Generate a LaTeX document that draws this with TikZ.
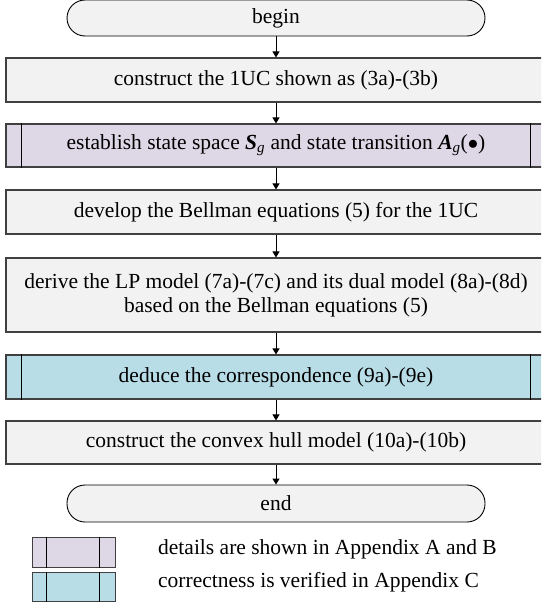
\documentclass[tikz,border=0pt]{standalone}
\usepackage{fontspec}
\setmainfont{Liberation Serif}
\usetikzlibrary{arrows.meta}
\definecolor{boxgray}{HTML}{F2F2F2}
\definecolor{boxline}{HTML}{404040}
\definecolor{lav}{HTML}{DDD7E6}
\definecolor{lblue}{HTML}{B8DDE7}
\tikzset{
  stepbox/.style={draw=boxline, line width=1.1pt, fill=boxgray, minimum width=540pt, inner sep=0pt, align=center, font=\fontsize{21.5}{24}\selectfont},
  termbox/.style={draw=black, line width=0.9pt, fill=boxgray, minimum width=418pt, minimum height=36pt, rounded corners=18pt, inner sep=0pt, font=\fontsize{21.5}{24}\selectfont},
  flowarrow/.style={draw=black, line width=1pt, -{Triangle[length=6pt,width=7pt]}},
  legtext/.style={anchor=west, inner sep=0pt, font=\fontsize{21.5}{24}\selectfont},
  subline/.style={draw=black, line width=0.9pt}
}
\begin{document}
\begin{tikzpicture}[x=1pt,y=-1pt]
\useasboundingbox (0,0) rectangle (541,605);
\clip (0,0) rectangle (541,605);
\node[termbox] (begin) at (276,18) {begin};
\node[stepbox, minimum height=44pt] (s1) at (276,80) {construct the 1UC shown as (3a)-(3b)};
\node[stepbox, fill=lav, minimum height=43pt] (s2) at (276,145.5) {establish state space \textbf{\textit{S}}\textsubscript{\textit{g}} and state transition \textbf{\textit{A}}\textsubscript{\textit{g}}($\bullet$)};
\node[stepbox, minimum height=44pt] (s3) at (276,212) {develop the Bellman equations (5) for the 1UC};
\node[stepbox, minimum height=74pt] (s4) at (276,295) {derive the LP model (7a)-(7c) and its dual model (8a)-(8d)\\based on the Bellman equations (5)};
\node[stepbox, fill=lblue, minimum height=44pt] (s5) at (276,377) {deduce the correspondence (9a)-(9e)};
\node[stepbox, minimum height=43pt] (s6) at (276,442.5) {construct the convex hull model (10a)-(10b)};
\node[termbox, minimum height=37pt] (end) at (276,503.5) {end};
% inner lines of subprocess boxes
\draw[subline] ([xshift=16pt]s2.north west) -- ([xshift=16pt]s2.south west);
\draw[subline] ([xshift=-16pt]s2.north east) -- ([xshift=-16pt]s2.south east);
\draw[subline] ([xshift=16pt]s5.north west) -- ([xshift=16pt]s5.south west);
\draw[subline] ([xshift=-16pt]s5.north east) -- ([xshift=-16pt]s5.south east);
% arrows
\draw[flowarrow] (begin) -- (s1);
\draw[flowarrow] (s1) -- (s2);
\draw[flowarrow] (s2) -- (s3);
\draw[flowarrow] (s3) -- (s4);
\draw[flowarrow] (s4) -- (s5);
\draw[flowarrow] (s5) -- (s6);
\draw[flowarrow] (s6) -- (end);
% legend
\node[draw=boxline, line width=1pt, fill=lav, minimum width=83pt, minimum height=30pt, inner sep=0pt] (l1) at (73.5,552) {};
\node[draw=boxline, line width=1pt, fill=lblue, minimum width=83pt, minimum height=29pt, inner sep=0pt] (l2) at (73.5,586.5) {};
\draw[subline] ([xshift=15pt]l1.north west) -- ([xshift=15pt]l1.south west);
\draw[subline] ([xshift=-16pt]l1.north east) -- ([xshift=-16pt]l1.south east);
\draw[subline] ([xshift=15pt]l2.north west) -- ([xshift=15pt]l2.south west);
\draw[subline] ([xshift=-16pt]l2.north east) -- ([xshift=-16pt]l2.south east);
\node[legtext] (t1) at (158,549) {details are shown in Appendix A and B};
\node[legtext] (t2) at (158,582) {correctness is verified in Appendix C};
\end{tikzpicture}
\end{document}
